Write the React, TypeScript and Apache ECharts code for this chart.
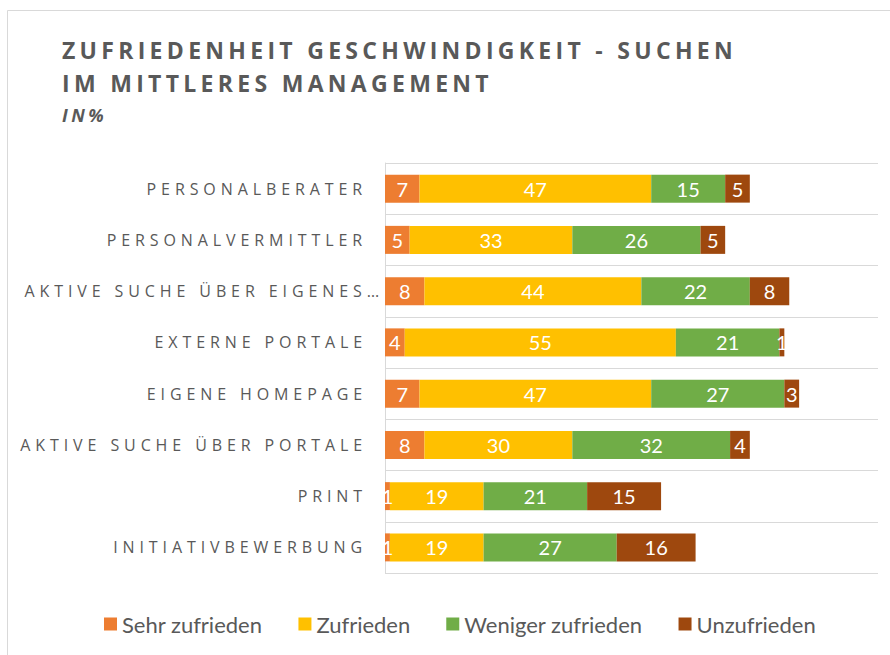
import React, { useEffect, useRef } from "react";
import * as echarts from "echarts";

const categories = [
  "PERSONALBERATER",
  "PERSONALVERMITTLER",
  "AKTIVE SUCHE ÜBER EIGENES…",
  "EXTERNE PORTALE",
  "EIGENE HOMEPAGE",
  "AKTIVE SUCHE ÜBER PORTALE",
  "PRINT",
  "INITIATIVBEWERBUNG",
];
const seriesNames = ["Sehr zufrieden", "Zufrieden", "Weniger zufrieden", "Unzufrieden"];
const sehrZufrieden = [7, 5, 8, 4, 7, 8, 1, 1];
const zufrieden = [47, 33, 44, 55, 47, 30, 19, 19];
const wenigerZufrieden = [15, 26, 22, 21, 27, 32, 21, 27];
const unzufrieden = [5, 5, 8, 1, 3, 4, 15, 16];
const colors = ["#ED7D31", "#FFC000", "#70AD47", "#9E480E"];

const css = `
body { margin: 0; }
#chart svg text[style*="23px"] { letter-spacing: 4.3px; }
#chart svg text[style*="18px"] { letter-spacing: 3.5px; }
#chart svg text[style*="16px"] { letter-spacing: 4.9px; }
`;

export default function App() {
  const ref = useRef<HTMLDivElement>(null);
  useEffect(() => {
    document.body.style.margin = "0";
    const chart = echarts.init(ref.current!, null, { renderer: "svg" });
    const values = [sehrZufrieden, zufrieden, wenigerZufrieden, unzufrieden];
    const yData = categories.map((c) =>
      c.endsWith("…") ? { value: c, textStyle: { padding: [0, -17, 0, 0] } } : c
    );
    chart.setOption({
      animation: false,
      color: colors,
      title: {
        text: "ZUFRIEDENHEIT GESCHWINDIGKEIT - SUCHEN\nIM MITTLERES MANAGEMENT",
        subtext: "IN%",
        left: 57,
        top: 28,
        itemGap: 7,
        textStyle: {
          fontFamily: "Open Sans",
          fontWeight: "bold",
          fontSize: 23,
          lineHeight: 33,
          color: "#595959",
        },
        subtextStyle: {
          fontFamily: "Open Sans",
          fontWeight: "bold",
          fontStyle: "italic",
          fontSize: 18,
          lineHeight: 18,
          color: "#595959",
        },
      },
      graphic: [
        {
          type: "rect",
          shape: { x: 7.5, y: 10.5, width: 1000, height: 1000 },
          style: { fill: "none", stroke: "#D9D9D9", lineWidth: 1 },
          silent: true,
        },
      ],
      legend: {
        data: seriesNames,
        left: 99,
        top: 608,
        icon: "rect",
        itemWidth: 13,
        itemHeight: 13,
        itemGap: 36,
        textStyle: { fontFamily: "Lato", fontSize: 22, color: "#595959" },
      },
      grid: { left: 385, right: 12, top: 163, bottom: 82, containLabel: false },
      xAxis: {
        type: "value",
        min: 0,
        max: 100,
        show: false,
        splitLine: { show: false },
      },
      yAxis: {
        type: "category",
        inverse: true,
        data: yData,
        axisLine: { show: true, lineStyle: { color: "#D9D9D9", width: 1 } },
        axisTick: { show: false },
        axisLabel: {
          color: "#595959",
          fontFamily: "Open Sans",
          fontSize: 16,
          margin: 18,
        },
        splitLine: { show: true, lineStyle: { color: "#D9D9D9", width: 1 } },
      },
      series: seriesNames.map((name, i) => ({
        name,
        type: "bar",
        stack: "total",
        barWidth: 28,
        data: values[i],
        label: {
          show: true,
          position: "inside",
          color: "#fff",
          fontFamily: "Lato",
          fontSize: 20,
        },
        itemStyle: { color: colors[i] },
      })),
    });
    return () => chart.dispose();
  }, []);
  return (
    <>
      <style>{css}</style>
      <div id="chart" ref={ref} style={{ width: 890, height: 655 }} />
    </>
  );
}
